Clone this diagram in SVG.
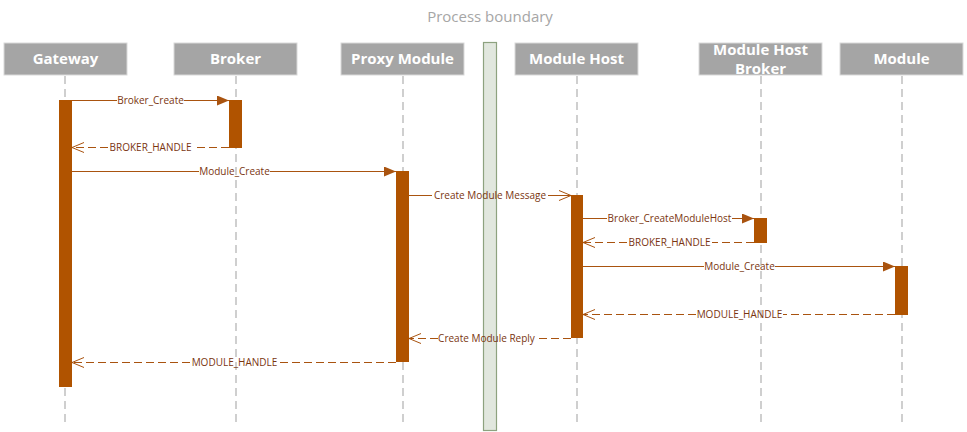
<svg xmlns="http://www.w3.org/2000/svg" width="967" height="432" viewBox="0 0 967 432">
<style>
.hdr{fill:#a5a5a5;stroke:#d9d9d9;stroke-width:1}
.ht{font-family:"Open Sans","Noto Sans",sans-serif;font-weight:bold;font-size:15px;fill:#ffffff;text-anchor:middle}
.life{stroke:#c0c0c0;stroke-width:1.5;stroke-dasharray:8 5;fill:none}
.act{fill:#b05300}
.msg{stroke:#a9530f;stroke-width:1;fill:none}
.dash{stroke-dasharray:8 4}
.lbl{font-family:"Open Sans","Noto Sans",sans-serif;font-size:10px;fill:#7a3510;text-anchor:middle}
.title{font-family:"Open Sans","Noto Sans",sans-serif;font-size:15px;fill:#a6a6a6;text-anchor:middle}
</style>
<defs>
<marker id="fill" viewBox="0 0 12 10" refX="12" refY="5" markerWidth="12" markerHeight="10" markerUnits="userSpaceOnUse" orient="auto">
<path d="M0,0 L12,5 L0,10 z" fill="#a9530f"/>
</marker>
<marker id="open" viewBox="0 0 14 12" refX="13" refY="6" markerWidth="14" markerHeight="12" markerUnits="userSpaceOnUse" orient="auto">
<path d="M1,1 L13,6 L1,11" fill="none" stroke="#a9530f" stroke-width="1"/>
</marker>
</defs>
<rect width="967" height="432" fill="#ffffff"/>
<text class="title" x="490" y="22">Process boundary</text>
<g id="boundary"><rect x="483.5" y="42.5" width="13" height="388" fill="#e1e7de" stroke="#8da27f" stroke-width="1.2"/></g>
<g id="gateway"><rect class="hdr" x="4" y="43" width="123" height="32"/><text class="ht" x="65.5" y="64">Gateway</text><line class="life" x1="65" y1="76" x2="65" y2="424"/><rect class="act" x="59" y="100" width="13" height="287"/></g>
<g id="broker"><rect class="hdr" x="174" y="43" width="123" height="32"/><text class="ht" x="235.5" y="64">Broker</text><line class="life" x1="236" y1="76" x2="236" y2="424"/><rect class="act" x="229" y="100" width="13" height="48"/></g>
<g id="proxy"><rect class="hdr" x="341" y="43" width="123" height="32"/><text class="ht" x="402.5" y="64">Proxy Module</text><line class="life" x1="403" y1="76" x2="403" y2="424"/><rect class="act" x="396" y="171" width="13" height="191"/></g>
<g id="host"><rect class="hdr" x="515" y="43" width="123" height="32"/><text class="ht" x="576.5" y="64">Module Host</text><line class="life" x1="577" y1="76" x2="577" y2="424"/><rect class="act" x="571" y="195" width="12" height="143"/></g>
<g id="hostbroker"><rect class="hdr" x="699" y="43" width="123" height="32"/><text class="ht" x="760.5" y="55">Module Host</text><text class="ht" x="760.5" y="74">Broker</text><line class="life" x1="761" y1="76" x2="761" y2="424"/><rect class="act" x="754" y="218" width="13" height="25"/></g>
<g id="module"><rect class="hdr" x="840" y="43" width="123" height="32"/><text class="ht" x="901.5" y="64">Module</text><line class="life" x1="902" y1="76" x2="902" y2="424"/><rect class="act" x="895" y="266" width="13" height="49"/></g>
<g id="connectors">
<path class="msg" d="M72,100.5 H117 M184,100.5 H229" marker-end="url(#fill)"/>
<text class="lbl" x="150.5" y="104">Broker_Create</text>
<path class="msg dash" d="M229,147.5 H193 M108,147.5 H72" marker-end="url(#open)"/>
<text class="lbl" x="150.5" y="151">BROKER_HANDLE</text>
<path class="msg" d="M72,171.5 H199 M270,171.5 H396" marker-end="url(#fill)"/>
<text class="lbl" x="234.5" y="175">Module_Create</text>
<path class="msg" d="M409,195.5 H432 M548,195.5 H571" marker-end="url(#open)"/>
<text class="lbl" x="490" y="199">Create Module Message</text>
<path class="msg" d="M583,218.5 H607 M732,218.5 H754" marker-end="url(#fill)"/>
<text class="lbl" x="669.5" y="222">Broker_CreateModuleHost</text>
<path class="msg dash" d="M754,242.5 H712 M627,242.5 H583" marker-end="url(#open)"/>
<text class="lbl" x="669.5" y="246">BROKER_HANDLE</text>
<path class="msg" d="M583,266.5 H704 M775,266.5 H895" marker-end="url(#fill)"/>
<text class="lbl" x="739.5" y="270">Module_Create</text>
<path class="msg dash" d="M895,314.5 H783 M696,314.5 H583" marker-end="url(#open)"/>
<text class="lbl" x="739.5" y="318">MODULE_HANDLE</text>
<path class="msg dash" d="M571,338.5 H535 M438,338.5 H409" marker-end="url(#open)"/>
<text class="lbl" x="486.5" y="342">Create Module Reply</text>
<path class="msg dash" d="M396,362.5 H279 M190,362.5 H72" marker-end="url(#open)"/>
<text class="lbl" x="234.5" y="366">MODULE_HANDLE</text>
</g>
</svg>
